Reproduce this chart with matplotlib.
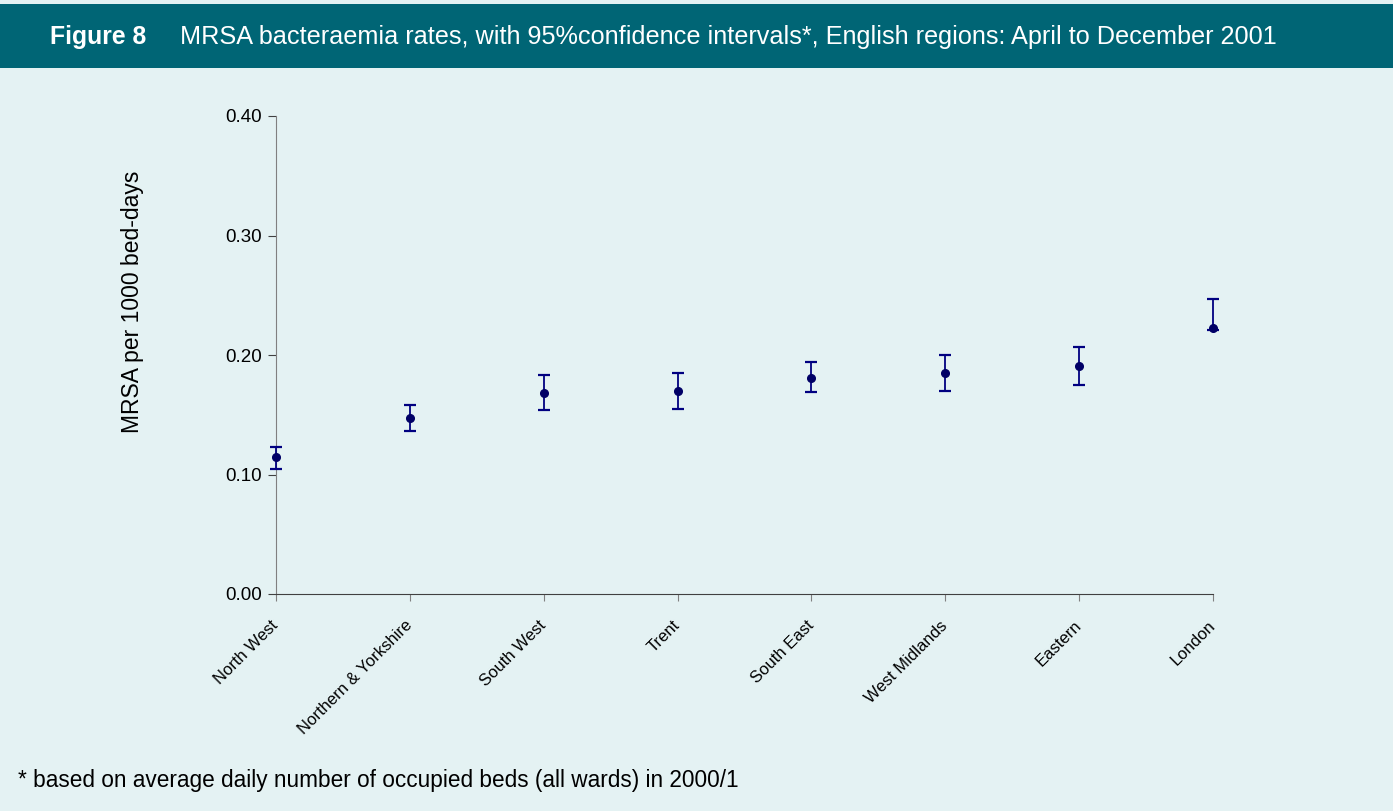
import numpy as np
import matplotlib.pyplot as plt
from matplotlib.patches import Rectangle

plt.rcParams['font.family'] = ['Liberation Sans', 'DejaVu Sans']

regions = ["North West", "Northern & Yorkshire", "South West", "Trent",
           "South East", "West Midlands", "Eastern", "London"]
rate = [0.115, 0.147, 0.168, 0.170, 0.181, 0.185, 0.191, 0.223]
upper = [0.123, 0.158, 0.183, 0.185, 0.194, 0.200, 0.207, 0.247]
lower = [0.105, 0.136, 0.154, 0.155, 0.169, 0.170, 0.175, 0.221]

bg = "#E4F2F3"
teal = "#006575"

fig = plt.figure(figsize=(13.93, 8.11), dpi=100)
fig.patch.set_facecolor(bg)

# header band
fig.patches.append(Rectangle((0, 1 - 68 / 811), 1, 64 / 811, transform=fig.transFigure,
                             facecolor=teal, edgecolor="none", zorder=0))
fig.text(50 / 1393, 1 - 37 / 811, "Figure 8", color="white", fontsize=17.8,
         fontweight="bold", va="center")
fig.text(180 / 1393, 1 - 37 / 811,
         "MRSA bacteraemia rates, with 95%confidence intervals*, English regions: April to December 2001",
         color="white", fontsize=18.2, va="center")

ax = fig.add_axes([276 / 1393, 1 - 594 / 811, (1213 - 276) / 1393, (594 - 116) / 811])
ax.set_facecolor(bg)

x = np.arange(len(regions))
rate = np.array(rate)
yerr = [rate - np.array(lower), np.array(upper) - rate]
ax.errorbar(x, rate, yerr=yerr, fmt="o", color="#000066", ecolor="#000080",
            elinewidth=1.3, capsize=4.5, capthick=1.6, markersize=5.5, clip_on=False, zorder=3)

ax.set_xlim(0, 7)
ax.set_ylim(0, 0.40)
ax.set_yticks([0, 0.1, 0.2, 0.3, 0.4])
ax.set_yticklabels(["0.00", "0.10", "0.20", "0.30", "0.40"], fontsize=13.5)
ax.set_xticks(x)
ax.set_xticklabels(regions, rotation=45, ha="right", va="center",
                   rotation_mode="anchor", fontsize=12)
ax.tick_params(axis="x", length=5, color="#808080", pad=16)
ax.tick_params(axis="y", length=6, color="#404040", pad=4)
for s in ["top", "right"]:
    ax.spines[s].set_visible(False)
ax.spines["left"].set_color("#808080")
ax.spines["bottom"].set_color("#404040")

fig.text(132 / 1393, 1 - 302 / 811, "MRSA per 1000 bed-days", fontsize=16.5,
         rotation=90, ha="center", va="center")

fig.text(18 / 1393, 1 - 780 / 811,
         "* based on average daily number of occupied beds (all wards) in 2000/1",
         fontsize=16.3, va="center")

fig.savefig("out.png", dpi=100, facecolor=bg)
